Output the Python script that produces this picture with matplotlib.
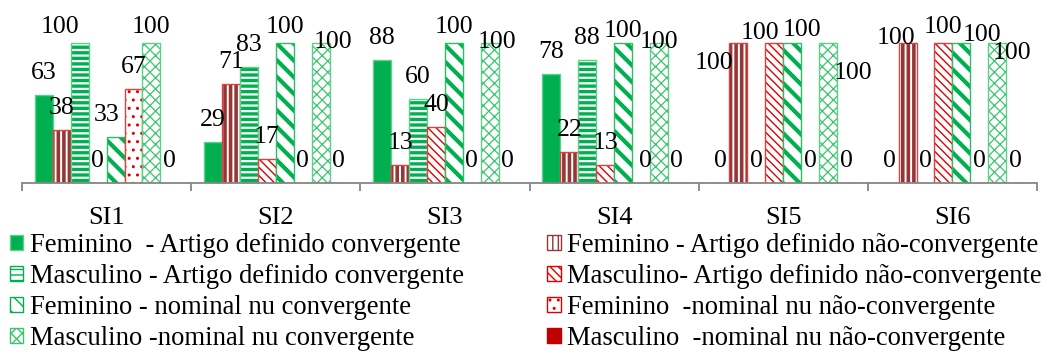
import numpy as np
import matplotlib.pyplot as plt
from matplotlib.patches import Patch

plt.rcParams.update({
    "font.family": "Liberation Serif",
    "font.size": 19,
})

# Dados
categories = ["SI1", "SI2", "SI3", "SI4", "SI5", "SI6"]

series_names = [
    "Feminino  - Artigo definido convergente",
    "Feminino - Artigo definido não-convergente",
    "Masculino - Artigo definido convergente",
    "Masculino- Artigo definido não-convergente",
    "Feminino - nominal nu convergente",
    "Feminino  -nominal nu não-convergente",
    "Masculino -nominal nu convergente",
    "Masculino  -nominal nu não-convergente",
]

fem_art_conv = [63, 29, 88, 78, 0, 0]
fem_art_nconv = [38, 71, 13, 22, 100, 100]
masc_art_conv = [100, 83, 60, 88, 0, 0]
masc_art_nconv = [0, 17, 40, 13, 100, 100]
fem_nu_conv = [33, 100, 100, 100, 100, 100]
fem_nu_nconv = [67, 0, 0, 0, 0, 0]
masc_nu_conv = [100, 100, 100, 100, 100, 100]
masc_nu_nconv = [0, 0, 0, 0, 0, 0]

values = [fem_art_conv, fem_art_nconv, masc_art_conv, masc_art_nconv,
          fem_nu_conv, fem_nu_nconv, masc_nu_conv, masc_nu_nconv]

# Estilos
GREEN = "#00B050"
LGREEN = "#3CC46E"
DRED = "#953735"
RED = "#E00000"
styles = [
    dict(facecolor=GREEN, edgecolor="#5CD08A", hatch=None, hlw=1.0),
    dict(facecolor="white", edgecolor=DRED, hatch="|||", hlw=2.6),
    dict(facecolor="white", edgecolor=GREEN, hatch="---", hlw=2.4),
    dict(facecolor="white", edgecolor=RED, hatch="\\\\\\\\", hlw=1.0),
    dict(facecolor="white", edgecolor=GREEN, hatch="\\\\", hlw=3.0),
    dict(facecolor="white", edgecolor=RED, hatch="..", hlw=1.0),
    dict(facecolor="white", edgecolor=LGREEN, hatch="xxx", hlw=0.9),
    dict(facecolor="#C00000", edgecolor="#C00000", hatch=None, hlw=1.0),
]
outline = ["#5CD08A", "#E04040", "#5CD08A", "#E04040",
           "#2DBE64", "#E04040", "#5CD08A", "#E04040"]

# Ajustes de rótulos (pixels) onde o Excel os deslocou
label_nudge = {
    (0, 2): (-20, 0), (0, 4): (-9, 0),
    (1, 6): (12, -15),
    (2, 6): (7, -15),
    (3, 4): (0, -4), (3, 5): (4, 0), (3, 6): (0, -15),
    (4, 1): (-24, -36), (4, 3): (-14, -6), (4, 4): (10, -3), (4, 6): (25, -46),
    (5, 1): (-12, -11), (5, 4): (21, -8), (5, 6): (15, -26),
}

n_series = len(values)
bar_w = 0.106
x = np.arange(len(categories))

fig = plt.figure(figsize=(10.46, 3.56), dpi=100)
ax = fig.add_axes([22 / 1046, 1 - 183 / 356, (1037 - 22) / 1046, 183 / 356])

handles = []
for i, (vals, st) in enumerate(zip(values, styles)):
    pos = x + (i - (n_series - 1) / 2) * bar_w
    with plt.rc_context({"hatch.linewidth": st["hlw"]}):
        bars = ax.bar(pos, vals, width=bar_w, facecolor=st["facecolor"],
                      edgecolor=st["edgecolor"], hatch=st["hatch"], linewidth=0)
        h = Patch(facecolor=st["facecolor"], edgecolor=st["edgecolor"],
                  hatch=st["hatch"], linewidth=1.0)
    for b in bars:
        if hasattr(b, "set_hatch_linewidth"):
            b.set_hatch_linewidth(st["hlw"])
    # contorno
    ax.bar(pos, vals, width=bar_w, facecolor="none", edgecolor=outline[i],
           linewidth=1.0)
    for g, (p, v) in enumerate(zip(pos, vals)):
        dx, dy = label_nudge.get((g, i), (0, 0))
        ax.annotate(f"{v}", (p, min(v, 96)), xytext=(dx, 22 + dy),
                    textcoords="offset pixels", ha="center", va="center",
                    fontsize=18.5, annotation_clip=False)
    handles.append(h)

ax.set_xlim(-0.5, len(categories) - 0.5)
ax.set_ylim(0, 131)

for side in ["top", "right", "left"]:
    ax.spines[side].set_visible(False)
ax.spines["bottom"].set_color("#868686")
ax.spines["bottom"].set_linewidth(1.3)
ax.set_yticks([])

ax.set_xticks(x)
ax.set_xticklabels(categories, fontsize=19)
ax.tick_params(axis="x", which="major", length=0, pad=17)
ax.set_xticks(np.arange(len(categories) + 1) - 0.5, minor=True)
ax.tick_params(axis="x", which="minor", length=6, width=1.3, color="#868686")

# legenda em linhas (ordem do Excel): reordenar para preenchimento por coluna
order = [0, 2, 4, 6, 1, 3, 5, 7]
fig.legend([handles[k] for k in order], [series_names[k] for k in order],
           loc="upper left", ncol=2,
           bbox_to_anchor=(10 / 1046, 1 - 233 / 356), frameon=False,
           fontsize=19.2, handlelength=0.5, handleheight=0.5,
           handletextpad=0.25, labelspacing=0.22, columnspacing=3.13,
           borderaxespad=0, borderpad=0.0)

fig.savefig("out.png", dpi=100)
